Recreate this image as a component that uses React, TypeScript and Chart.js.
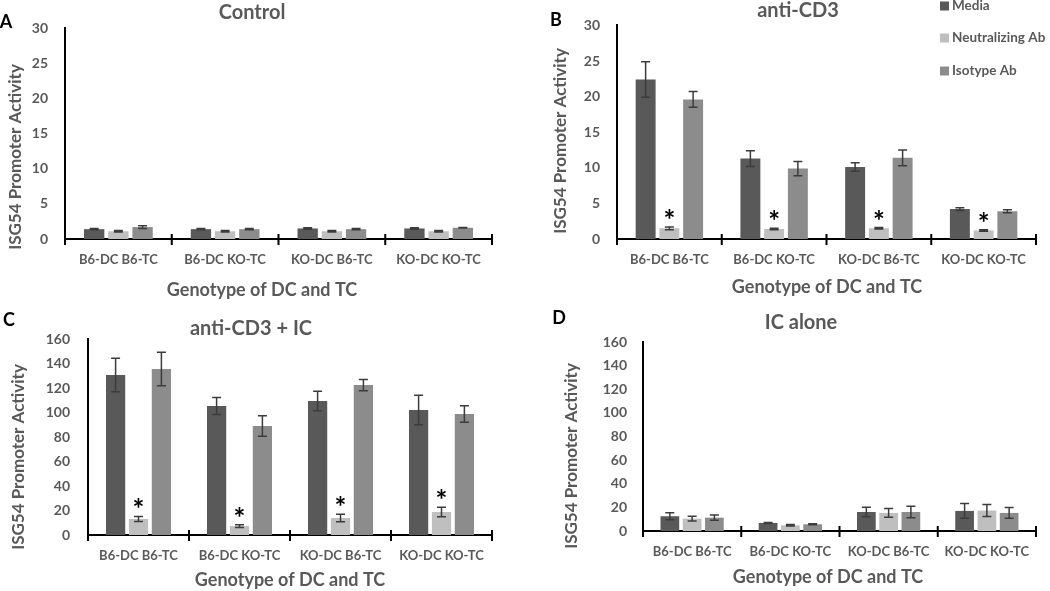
import React, { useEffect, useRef } from 'react';
import { Chart, registerables } from 'chart.js';

Chart.register(...registerables);

// ---------- data ----------
const categories = ['B6-DC B6-TC', 'B6-DC KO-TC', 'KO-DC B6-TC', 'KO-DC KO-TC'];
const seriesNames = ['Media', 'Neutralizing Ab', 'Isotype Ab'];
const seriesColors = ['#595959', '#bfbfbf', '#8c8c8c'];
const yAxisTitle = 'ISG54 Promoter Activity';
const xAxisTitle = 'Genotype of DC and TC';

// Panel A - Control
const controlMedia = [1.4, 1.4, 1.5, 1.5];
const controlMediaErr = [0.1, 0.1, 0.1, 0.1];
const controlNeut = [1.1, 1.1, 1.1, 1.1];
const controlNeutErr = [0.1, 0.1, 0.1, 0.1];
const controlIso = [1.7, 1.4, 1.4, 1.6];
const controlIsoErr = [0.2, 0.1, 0.1, 0.05];

// Panel B - anti-CD3
const cd3Media = [22.4, 11.3, 10.1, 4.2];
const cd3MediaErr = [2.5, 1.1, 0.6, 0.2];
const cd3Neut = [1.5, 1.4, 1.5, 1.2];
const cd3NeutErr = [0.2, 0.1, 0.1, 0.1];
const cd3Iso = [19.6, 9.9, 11.4, 3.9];
const cd3IsoErr = [1.1, 1.0, 1.1, 0.2];
const cd3Stars = [true, true, true, true];

// Panel C - anti-CD3 + IC
const cd3IcMedia = [130.6, 105.3, 109.4, 102];
const cd3IcMediaErr = [13.6, 7, 7.9, 12];
const cd3IcNeut = [13.1, 7.3, 13.9, 18.8];
const cd3IcNeutErr = [2.1, 1.1, 3, 3.8];
const cd3IcIso = [135.5, 89, 122.4, 98.8];
const cd3IcIsoErr = [13.6, 8.4, 4.6, 6.8];
const cd3IcStars = [true, true, true, true];

// Panel D - IC alone
const icMedia = [12.5, 6.8, 16.1, 17];
const icMediaErr = [3, 0.4, 4, 6.2];
const icNeut = [10.5, 4.8, 15.3, 17.3];
const icNeutErr = [2, 0.6, 3.7, 5.1];
const icIso = [11.3, 5.7, 16.1, 15.3];
const icIsoErr = [2.3, 0.5, 4.9, 4.5];

const yTicksLow = { max: 30, step: 5 };
const yTicksHigh = { max: 160, step: 20 };

// ---------- styling ----------
const FONT = 'Lato, "Open Sans", "Liberation Sans", sans-serif';
const W = 'bold';
const TEXT_GRAY = '#595959';
const ERR_COLOR = '#3c3c3c';

type Pt = { x: number; y: number };
type Spec = {
  letter: string;
  title: string;
  left: number;
  top: number;
  width: number;
  height: number;
  area: { left: number; top: number; right: number; bottom: number };
  yMax: number;
  yStep: number;
  yTickPad: number;
  letterPos: Pt;
  titlePos: Pt;
  xTitlePos: Pt;
  yTitlePos: Pt;
  values: number[][];
  errors: number[][];
  stars: boolean[] | null;
  legend: { x: number; ys: number[] } | null;
};

const specs: Spec[] = [
  {
    letter: 'A', title: 'Control', left: 0, top: 0, width: 520, height: 300,
    area: { left: 65, top: 28, right: 492, bottom: 239 },
    yMax: yTicksLow.max, yStep: yTicksLow.step, yTickPad: 17,
    letterPos: { x: 6, y: 22 }, titlePos: { x: 252, y: 13 },
    xTitlePos: { x: 262, y: 290 }, yTitlePos: { x: 16, y: 157 },
    values: [controlMedia, controlNeut, controlIso],
    errors: [controlMediaErr, controlNeutErr, controlIsoErr],
    stars: null, legend: null,
  },
  {
    letter: 'B', title: 'anti-CD3', left: 520, top: 0, width: 530, height: 300,
    area: { left: 97, top: 25, right: 516, bottom: 239 },
    yMax: yTicksLow.max, yStep: yTicksLow.step, yTickPad: 17,
    letterPos: { x: 36, y: 20 }, titlePos: { x: 278, y: 11 },
    xTitlePos: { x: 307, y: 287 }, yTitlePos: { x: 41, y: 141 },
    values: [cd3Media, cd3Neut, cd3Iso],
    errors: [cd3MediaErr, cd3NeutErr, cd3IsoErr],
    stars: cd3Stars, legend: { x: 420, ys: [6, 38, 71] },
  },
  {
    letter: 'C', title: 'anti-CD3 + IC', left: 0, top: 300, width: 520, height: 291,
    area: { left: 88, top: 39, right: 492, bottom: 235 },
    yMax: yTicksHigh.max, yStep: yTicksHigh.step, yTickPad: 18,
    letterPos: { x: 9, y: 20 }, titlePos: { x: 251, y: 29 },
    xTitlePos: { x: 290, y: 280 }, yTitlePos: { x: 19, y: 157 },
    values: [cd3IcMedia, cd3IcNeut, cd3IcIso],
    errors: [cd3IcMediaErr, cd3IcNeutErr, cd3IcIsoErr],
    stars: cd3IcStars, legend: null,
  },
  {
    letter: 'D', title: 'IC alone', left: 520, top: 300, width: 530, height: 291,
    area: { left: 123, top: 42, right: 516, bottom: 231 },
    yMax: yTicksHigh.max, yStep: yTicksHigh.step, yTickPad: 16,
    letterPos: { x: 39, y: 18 }, titlePos: { x: 281, y: 23 },
    xTitlePos: { x: 308, y: 277 }, yTitlePos: { x: 52, y: 156 },
    values: [icMedia, icNeut, icIso],
    errors: [icMediaErr, icNeutErr, icIsoErr],
    stars: null, legend: null,
  },
];

function makeDecor(spec: Spec) {
  return {
    id: 'decor',
    afterDatasetsDraw(chart: any) {
      const ctx = chart.ctx;
      const ys = chart.scales.y;
      ctx.save();
      chart.data.datasets.forEach((ds: any, di: number) => {
        const meta = chart.getDatasetMeta(di);
        meta.data.forEach((bar: any, i: number) => {
          const v = ds.data[i];
          const e = ds.errors ? ds.errors[i] : 0;
          const x = bar.x;
          const yTop = ys.getPixelForValue(v + e);
          const yBot = ys.getPixelForValue(Math.max(0, v - e));
          ctx.strokeStyle = ERR_COLOR;
          ctx.lineWidth = 1.5;
          ctx.beginPath();
          ctx.moveTo(x, yTop);
          ctx.lineTo(x, yBot);
          ctx.moveTo(x - 4.5, yTop);
          ctx.lineTo(x + 4.5, yTop);
          ctx.moveTo(x - 4.5, yBot);
          ctx.lineTo(x + 4.5, yBot);
          ctx.stroke();
          if (ds.stars && ds.stars[i]) {
            ctx.fillStyle = '#000';
            ctx.font = `${W} 28px ${FONT}`;
            ctx.textAlign = 'center';
            ctx.textBaseline = 'alphabetic';
            ctx.fillText('*', x, yTop + 3);
          }
        });
      });
      ctx.restore();
    },
    afterDraw(chart: any) {
      const ctx = chart.ctx;
      const xs = chart.scales.x;
      const bottom = chart.chartArea.bottom;
      const n = categories.length;
      ctx.save();
      // tick marks crossing the category axis
      ctx.strokeStyle = '#000';
      ctx.lineWidth = 2;
      ctx.beginPath();
      for (let i = 0; i <= n; i++) {
        const px = xs.left + (i * (xs.right - xs.left)) / n;
        ctx.moveTo(px, bottom - 5);
        ctx.lineTo(px, bottom + 6);
      }
      ctx.stroke();

      ctx.textAlign = 'center';
      ctx.textBaseline = 'middle';
      // panel letter
      ctx.fillStyle = '#000';
      ctx.font = `${W} 18px ${FONT}`;
      ctx.fillText(spec.letter, spec.letterPos.x, spec.letterPos.y);
      // title
      ctx.fillStyle = TEXT_GRAY;
      ctx.font = `${W} 20px ${FONT}`;
      ctx.fillText(spec.title, spec.titlePos.x, spec.titlePos.y);
      // x axis title
      ctx.font = `${W} 18px ${FONT}`;
      ctx.fillText(xAxisTitle, spec.xTitlePos.x, spec.xTitlePos.y);
      // y axis title
      ctx.save();
      ctx.translate(spec.yTitlePos.x, spec.yTitlePos.y);
      ctx.rotate(-Math.PI / 2);
      ctx.font = `${W} 17px ${FONT}`;
      ctx.fillText(yAxisTitle, 0, 0);
      ctx.restore();

      // overlay legend
      if (spec.legend) {
        ctx.textAlign = 'left';
        ctx.font = `${W} 13.5px ${FONT}`;
        chart.data.datasets.forEach((ds: any, k: number) => {
          const y = spec.legend!.ys[k];
          ctx.fillStyle = ds.backgroundColor;
          ctx.fillRect(spec.legend!.x, y - 4.5, 9, 9);
          ctx.fillStyle = TEXT_GRAY;
          ctx.fillText(ds.label, spec.legend!.x + 12, y);
        });
      }
      ctx.restore();
    },
  };
}

function buildConfig(spec: Spec): any {
  return {
    type: 'bar',
    data: {
      labels: categories,
      datasets: seriesNames.map((name, k) => ({
        label: name,
        data: spec.values[k],
        errors: spec.errors[k],
        stars: k === 1 ? spec.stars : null,
        backgroundColor: seriesColors[k],
        borderWidth: 0,
        categoryPercentage: 0.68,
        barPercentage: 0.84,
      })),
    },
    options: {
      responsive: false,
      animation: false,
      events: [],
      layout: {
        padding: {
          left: 0,
          top: spec.area.top,
          right: spec.width - spec.area.right,
          bottom: 0,
        },
      },
      plugins: {
        legend: { display: false },
        title: { display: false },
        tooltip: { enabled: false },
      },
      scales: {
        x: {
          type: 'category',
          offset: true,
          grid: { display: false, drawTicks: false, drawOnChartArea: false },
          border: { display: true, color: '#000', width: 2 },
          ticks: {
            color: TEXT_GRAY,
            font: { family: FONT, size: 13, weight: W },
            padding: 13,
            maxRotation: 0,
            autoSkip: false,
          },
          afterFit: (s: any) => {
            s.height = spec.height - spec.area.bottom;
          },
        },
        y: {
          min: 0,
          max: spec.yMax,
          grid: { display: false, drawTicks: false },
          border: { display: true, color: '#000', width: 2 },
          ticks: {
            stepSize: spec.yStep,
            color: TEXT_GRAY,
            font: { family: FONT, size: 14, weight: W },
            padding: spec.yTickPad,
          },
          afterFit: (s: any) => {
            s.width = spec.area.left;
          },
        },
      },
    },
    plugins: [makeDecor(spec)],
  };
}

function Panel({ spec }: { spec: Spec }) {
  const ref = useRef<HTMLCanvasElement | null>(null);
  useEffect(() => {
    if (!ref.current) return;
    const chart = new Chart(ref.current, buildConfig(spec));
    return () => chart.destroy();
  }, [spec]);
  return (
    <canvas
      ref={ref}
      width={spec.width}
      height={spec.height}
      style={{
        position: 'absolute',
        left: spec.left,
        top: spec.top,
        width: spec.width,
        height: spec.height,
      }}
    />
  );
}

export default function App() {
  return (
    <div
      style={{
        position: 'fixed',
        left: 0,
        top: 0,
        width: 1050,
        height: 591,
        background: '#fff',
        overflow: 'hidden',
      }}
    >
      {specs.map((s) => (
        <Panel key={s.letter} spec={s} />
      ))}
    </div>
  );
}
